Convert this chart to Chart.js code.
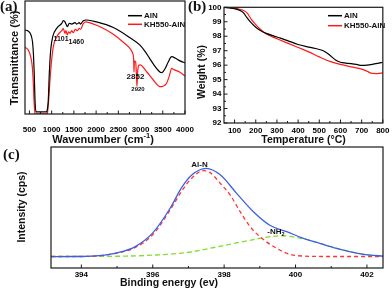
<!DOCTYPE html>
<html lang="en">
<head>
<meta charset="UTF-8">
<title>AlN / KH550-AlN: FTIR, TGA and XPS</title>
<script src="https://cdn.jsdelivr.net/npm/chart.js"></script>
<style>
    body { margin: 0; background: #fff; }
    #wrap { position: relative; width: 392px; height: 292px; }
    #wrap canvas { position: absolute; left: 0; top: 0; }
</style>
</head>
<body>
<div id="wrap">
    <canvas id="ftirChart" width="392" height="292"></canvas>
    <canvas id="tgaChart" width="392" height="292"></canvas>
    <canvas id="xpsChart" width="392" height="292"></canvas>
</div>

<script>
    // (a) FTIR - wavenumber (cm-1) vs transmittance (arbitrary units)
    const ftirTicks = [500, 1000, 1500, 2000, 2500, 3000, 3500, 4000];
    const ftirAlNWave = [400, 467, 535, 569, 591, 609, 625, 647, 880, 888, 924, 947, 978, 1023, 1113, 1226, 1262,
        1300, 1322, 1352, 1397, 1451, 1525, 1563, 1622, 1652, 1712, 1787, 2012, 2387, 2762, 2987,
        3100, 3200, 3300, 3400, 3475, 3550, 3617, 3700, 3775, 3887, 4000];
    const ftirAlN = [74.3, 73.5, 69.9, 63.7, 52.2, 34.5, 12.4, 1.8, 1.8, 2, 12.4, 36, 56.6, 68.4, 75.8, 80.2, 82.6,
        81.5, 79.6, 77.3, 80.3, 79.6, 80.8, 79.6, 80.8, 79.6, 82.6, 83.2, 81.5, 76.5, 67.5, 61,
        55.5, 49.5, 43.5, 38.5, 36.5, 40, 45.5, 50.7, 49.6, 47, 45.2];
    const ftirKHWave = [400, 474, 528, 564, 587, 602, 625, 650, 880, 902, 933, 962, 1000, 1037, 1113, 1226, 1262,
        1300, 1322, 1352, 1383, 1412, 1451, 1487, 1532, 1577, 1622, 1652, 1712, 1772, 1850, 2012, 2200, 2387, 2612, 2762,
        2820, 2845, 2852, 2862, 2890, 2912, 2920, 2930, 2960, 2990, 3137, 3287, 3437, 3500, 3587, 3650, 3700, 3737, 3887, 4000];
    const ftirKH = [59, 56.6, 50.7, 41.9, 27.2, 12.4, 0.6, 0.2, 0.2, 0.6, 12.4, 30, 47.8, 59.6, 68.4, 73.7, 75.5,
        71.4, 73.7, 69.9, 72.8, 71.4, 73.7, 71.9, 75, 73.7, 75.8, 75, 80, 81.5, 80.8, 78.5, 75, 70.5, 63.5, 58,
        54, 48, 37, 47, 46, 30, 24.5, 35, 43, 43.5, 37.4, 30.1, 24.2, 24.5, 27.2, 34, 40.4, 39.5, 37, 33.6];

    // (b) TGA - temperature (C) vs weight (%)
    const tgaXTicks = [100, 200, 300, 400, 500, 600, 700, 800];
    const tgaYTicks = [92, 93, 94, 95, 96, 97, 98, 99, 100];
    const tgaAlNTemp = [50, 75, 100, 120, 140, 160, 180, 200, 220, 250, 300, 350, 400, 450, 500, 525, 550, 575, 600, 625, 650, 675, 700, 725, 750, 775, 800];
    const tgaAlN = [100, 99.95, 99.9, 99.82, 99.65, 99.25, 98.9, 98.62, 98.42, 98.2, 97.95, 97.7, 97.43, 97.25, 97.08, 96.95, 96.68, 96.38, 96.2, 96.14, 96.1, 96.05, 95.98, 96.0, 96.05, 96.12, 96.2];
    const tgaKHTemp = [50, 75, 100, 120, 140, 160, 180, 200, 220, 250, 300, 350, 400, 450, 500, 550, 600, 650, 700, 725, 750, 775, 800];
    const tgaKH = [100, 99.98, 99.93, 99.88, 99.8, 99.6, 99.15, 98.8, 98.5, 98.15, 97.83, 97.52, 97.22, 96.92, 96.57, 96.26, 96.05, 95.88, 95.72, 95.58, 95.43, 95.42, 95.47];

    // (c) XPS N1s - binding energy (eV) vs intensity (arbitrary units)
    const xpsTicks = [394, 396, 398, 400, 402];
    const xpsEnvEnergy = [393.15, 394.0, 394.5, 395.0, 395.5, 396.0, 396.5, 396.8, 397.1, 397.5, 397.89, 398.35, 398.82, 399.28, 399.75, 400.22, 400.68, 401.15, 401.61, 402.08, 402.45];
    const xpsEnvelope = [9.4, 9.5, 10.2, 12.5, 17.5, 29, 50, 66, 77, 82.4, 77, 61.7, 46.5, 35.3, 30, 24.5, 20.4, 16.3, 13, 10.7, 9.9];
    const xpsAlNEnergy = [393.15, 394.0, 394.5, 395.0, 395.5, 396.0, 396.5, 396.8, 397.1, 397.42, 397.6, 397.89, 398.17, 398.45, 398.73, 399.0, 399.47, 399.84, 400.2, 401.0, 402.45];
    const xpsAlN = [9.5, 9.5, 10.1, 12.2, 16.8, 27.5, 48.5, 63, 74.5, 80.4, 79, 70, 60.3, 46.5, 34.1, 25.9, 16.3, 11.3, 9.9, 9.5, 9.5];
    const xpsNH2Energy = [393.15, 395.0, 396.0, 396.9, 397.8, 398.5, 399.1, 399.6, 400.2, 400.68, 401.15, 401.61, 402.08, 402.45];
    const xpsNH2 = [9.5, 9.7, 10.6, 12.6, 17.4, 21.6, 25, 26.6, 24.3, 20.4, 16.3, 13, 10.7, 9.9];

    const SANS = '"Liberation Sans", Arial, sans-serif';
    const SERIF = '"Liberation Serif", "Times New Roman", serif';
    const tickFont = { family: SANS, size: 8, weight: 'bold' };

    function pairs(xs, ys) {
        return xs.map((x, i) => ({ x: x, y: ys[i] }));
    }

    // frame decorations, legend and texts per canvas (kept out of chart options)
    const decor = {
        ftirChart: {
            legend: { x: 128, len: 14, ys: [15.7, 24.3] },
            texts: [
                { parts: ['(a)'], px: 0, py: 7.5, size: 15, serif: true, left: true },
                { parts: ['Transmittance (%)'], px: 15, py: 58, size: 11, rotate: true },
                { parts: ['Wavenumber (cm', { t: '-1', sup: true }, ')'], px: 103, py: 140, size: 11 },
                { parts: ['1101'], at: [1210, 66], size: 7 },
                { parts: ['1460'], at: [1555, 64], size: 7 },
                { parts: ['2852'], at: [2886, 33], size: 8 },
                { parts: ['2920'], at: [2942, 22], size: 6 }
            ]
        },
        tgaChart: {
            yTicks: true,
            legend: { x: 328, len: 14, ys: [15.7, 25.7] },
            texts: [
                { parts: ['(b)'], px: 188, py: 7.5, size: 15, serif: true, left: true },
                { parts: ['Weight (%)'], px: 202.5, py: 72, size: 10.5, rotate: true },
                { parts: ['Temperature (°C)'], px: 303.5, py: 140, size: 10.5 }
            ]
        },
        xpsChart: {
            texts: [
                { parts: ['(c)'], px: 3, py: 155, size: 15, serif: true, left: true },
                { parts: ['Intensity (cps)'], px: 22, py: 207, size: 10.5, rotate: true },
                { parts: ['Binding energy (ev)'], px: 169, py: 283.5, size: 10.5 },
                { parts: ['Al-N'], at: [397.31, 85.1], size: 8 },
                { parts: ['-NH', { t: '2', sub: true }], at: [399.45, 29.8], size: 8 }
            ]
        }
    };

    // draws text made of parts, strings or {t, sup/sub}, centred on x (or starting at x)
    function drawRich(ctx, parts, x, y, size, serif, left) {
        const fam = serif ? SERIF : SANS;
        const segs = parts.map(p => typeof p === 'string' ? { t: p } : Object.assign({}, p));
        let w = 0;
        segs.forEach(s => {
            s.size = (s.sup || s.sub) ? size * 0.68 : size;
            ctx.font = 'bold ' + s.size + 'px ' + fam;
            s.w = ctx.measureText(s.t).width;
            w += s.w;
        });
        let cx = left ? x : x - w / 2;
        segs.forEach(s => {
            ctx.font = 'bold ' + s.size + 'px ' + fam;
            const dy = s.sup ? -size * 0.38 : (s.sub ? size * 0.28 : 0);
            ctx.fillText(s.t, cx, y + dy);
            cx += s.w;
        });
    }

    const panelDecor = {
        id: 'panelDecor',
        afterDatasetsDraw(chart) {
            const opts = decor[chart.canvas.id];
            const { ctx, chartArea: a, scales } = chart;
            ctx.save();
            ctx.strokeStyle = '#1a1a1a';
            ctx.lineWidth = 1.2;
            ctx.strokeRect(a.left, a.top, a.right - a.left, a.bottom - a.top);

            // inward tick marks, minor ones halfway between the majors
            const inward = (scale, horizontal) => {
                const major = scale.ticks.map(t => t.value);
                const minor = [];
                for (let i = 0; i < major.length - 1; i++) minor.push((major[i] + major[i + 1]) / 2);
                const step = major[1] - major[0];
                if (major[0] - step / 2 > scale.min) minor.push(major[0] - step / 2);
                if (major[major.length - 1] + step / 2 < scale.max) minor.push(major[major.length - 1] + step / 2);
                ctx.beginPath();
                major.map(v => [v, 3.5]).concat(minor.map(v => [v, 2])).forEach(([v, len]) => {
                    const p = scale.getPixelForValue(v);
                    if (horizontal) { ctx.moveTo(p, a.bottom); ctx.lineTo(p, a.bottom - len); }
                    else { ctx.moveTo(a.left, p); ctx.lineTo(a.left + len, p); }
                });
                ctx.stroke();
            };
            ctx.lineWidth = 1;
            inward(scales.x, true);
            if (opts.yTicks) inward(scales.y, false);

            ctx.fillStyle = '#111';
            ctx.textBaseline = 'middle';
            ctx.textAlign = 'left';
            if (opts.legend) {
                const L = opts.legend;
                chart.data.datasets.forEach((ds, i) => {
                    ctx.strokeStyle = ds.borderColor;
                    ctx.lineWidth = 1.5;
                    ctx.beginPath();
                    ctx.moveTo(L.x, L.ys[i]);
                    ctx.lineTo(L.x + L.len, L.ys[i]);
                    ctx.stroke();
                    ctx.font = 'bold 8px ' + SANS;
                    ctx.fillText(ds.label, L.x + L.len + 2, L.ys[i]);
                });
            }
            opts.texts.forEach(t => {
                let x = t.px, y = t.py;
                if (t.at) {
                    x = scales.x.getPixelForValue(t.at[0]);
                    y = scales.y.getPixelForValue(t.at[1]);
                }
                ctx.save();
                ctx.translate(x, y);
                if (t.rotate) ctx.rotate(-Math.PI / 2);
                drawRich(ctx, t.parts, 0, 0, t.size, t.serif, t.left);
                ctx.restore();
            });
            ctx.restore();
        }
    };

    function xAxis(min, max, ticks, pad) {
        return {
            type: 'linear', min: min, max: max,
            grid: { display: false, drawTicks: false },
            border: { display: false },
            ticks: { font: tickFont, color: '#000', padding: pad, autoSkip: false, maxRotation: 0, callback: v => String(v) },
            afterBuildTicks: s => { s.ticks = ticks.map(v => ({ value: v })); },
            afterFit: s => { s.height = 20; }
        };
    }

    function lineSet(label, xs, ys, color, width, dash) {
        return {
            label: label,
            data: pairs(xs, ys),
            borderColor: color,
            borderWidth: width,
            borderDash: dash || [],
            pointRadius: 0,
            fill: false,
            cubicInterpolationMode: 'monotone'
        };
    }

    const common = {
        responsive: false,
        animation: false,
        events: [],
        plugins: { legend: { display: false }, tooltip: { enabled: false } }
    };

    // (a)
    new Chart(document.getElementById('ftirChart'), {
        type: 'line',
        data: {
            datasets: [
                lineSet('AlN', ftirAlNWave, ftirAlN, '#000000', 1.2),
                lineSet('KH550-AlN', ftirKHWave, ftirKH, '#ff1a1a', 1.2)
            ]
        },
        options: Object.assign({}, common, {
            layout: { padding: { left: 25, right: 207, top: 1, bottom: 158 } },
            scales: {
                x: xAxis(400, 4000, ftirTicks, 11),
                y: { display: false, min: 0, max: 100 }
            }
        }),
        plugins: [panelDecor]
    });

    // (b)
    new Chart(document.getElementById('tgaChart'), {
        type: 'line',
        data: {
            datasets: [
                lineSet('AlN', tgaAlNTemp, tgaAlN, '#000000', 1.2),
                lineSet('KH550-AlN', tgaKHTemp, tgaKH, '#ff1a1a', 1.2)
            ]
        },
        options: Object.assign({}, common, {
            layout: { padding: { left: 194, right: 9, top: 5, bottom: 149 } },
            scales: {
                x: xAxis(50, 800, tgaXTicks, 2.5),
                y: {
                    min: 92, max: 100,
                    grid: { display: false, drawTicks: false },
                    border: { display: false },
                    ticks: { font: tickFont, color: '#000', padding: 2.5, autoSkip: false },
                    afterBuildTicks: s => { s.ticks = tgaYTicks.map(v => ({ value: v })); },
                    afterFit: s => { s.width = 30; }
                }
            }
        }),
        plugins: [panelDecor]
    });

    // (c)
    new Chart(document.getElementById('xpsChart'), {
        type: 'line',
        data: {
            datasets: [
                lineSet('Envelope', xpsEnvEnergy, xpsEnvelope, '#3d5fe3', 1.3),
                lineSet('Al-N', xpsAlNEnergy, xpsAlN, '#ff3535', 1.3, [4, 3]),
                lineSet('-NH2', xpsNH2Energy, xpsNH2, '#7fe02a', 1.3, [5, 3])
            ]
        },
        options: Object.assign({}, common, {
            layout: { padding: { left: 51, right: 9, top: 147, bottom: 4 } },
            scales: {
                x: xAxis(393.15, 402.45, xpsTicks, 2),
                y: { display: false, min: 0, max: 100 }
            }
        }),
        plugins: [panelDecor]
    });
</script>
</body>
</html>
